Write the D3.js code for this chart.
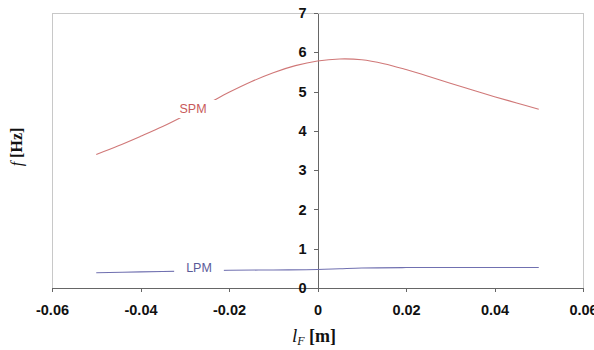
<!DOCTYPE html>
<html><head><meta charset="utf-8">
<script src="https://cdn.jsdelivr.net/npm/d3@7"></script>
<style>body{margin:0;background:#fff}svg{display:block}</style>
</head><body>
<script>
const xTicks = [-0.06, -0.04, -0.02, 0, 0.02, 0.04, 0.06];
const yTicks = [0, 1, 2, 3, 4, 5, 6, 7];
const spmX = [-0.05,-0.045,-0.04,-0.035,-0.03,-0.025,-0.02,-0.015,-0.01,-0.005,0,0.005,0.01,0.015,0.02,0.025,0.03,0.035,0.04,0.045,0.05];
const spmY = [3.40,3.62,3.86,4.11,4.39,4.68,4.98,5.25,5.48,5.66,5.78,5.83,5.81,5.71,5.56,5.39,5.21,5.04,4.87,4.71,4.55];
const lpmX = [-0.05,-0.04,-0.03,-0.02,-0.01,0,0.005,0.01,0.02,0.03,0.04,0.05];
const lpmY = [0.39,0.41,0.43,0.45,0.46,0.47,0.49,0.51,0.52,0.52,0.52,0.52];

const W = 594, H = 350;
const svg = d3.select("body").append("svg").attr("width", W).attr("height", H);
const x = d3.scaleLinear().domain([-0.06, 0.06]).range([52, 583]);
const y = d3.scaleLinear().domain([0, 7]).range([288, 13]);

// frame
svg.append("rect").attr("x", x(-0.06)).attr("y", y(7)).attr("width", x(0.06)-x(-0.06)).attr("height", y(0)-y(7))
  .attr("fill", "none").attr("stroke", "#c8c8c8").attr("stroke-width", 1).attr("shape-rendering","crispEdges");

const fmt = d => d === 0 ? "0" : d3.format(".2f")(d).replace("−","-");

const xAxis = svg.append("g").attr("transform", `translate(0,${y(0)})`)
  .call(d3.axisBottom(x).tickValues(xTicks).tickSize(4).tickSizeOuter(0).tickPadding(13).tickFormat(fmt));
const yAxis = svg.append("g").attr("transform", `translate(${x(0)},0)`)
  .call(d3.axisLeft(y).tickValues(yTicks).tickSize(4).tickSizeOuter(0).tickPadding(7).tickFormat(d3.format("d")));
[xAxis, yAxis].forEach(g => {
  g.selectAll("path,line").attr("stroke", "#666").attr("shape-rendering","crispEdges");
  g.selectAll("text").attr("font-family", "Arial, 'Liberation Sans', sans-serif").attr("font-weight", "bold")
    .attr("font-size", 14.5).attr("fill", "#111");
});

const line = d3.line().x(d => x(d[0])).y(d => y(d[1])).curve(d3.curveCatmullRom);
svg.append("path").datum(d3.zip(spmX, spmY)).attr("d", line).attr("fill", "none").attr("stroke", "#d07878").attr("stroke-width", 1.1);
svg.append("path").datum(d3.zip(lpmX, lpmY)).attr("d", line).attr("fill", "none").attr("stroke", "#7070b0").attr("stroke-width", 1.1);

function label(t, cx, cy, col) {
  const g = svg.append("g");
  const tx = g.append("text").attr("x", cx).attr("y", cy).attr("text-anchor", "middle").attr("dominant-baseline","central")
    .attr("font-family", "Arial, 'Liberation Sans', sans-serif").attr("font-size", 12.5).attr("fill", col).text(t);
  const bb = tx.node().getBBox();
  g.insert("rect", "text").attr("x", bb.x - 12).attr("y", bb.y - 2).attr("width", bb.width + 24).attr("height", bb.height + 4).attr("fill", "#fff");
}
label("SPM", 193, 109, "#c85a5a");
label("LPM", 199, 268, "#5a5a98");

// axis titles
const xt = svg.append("text").attr("x", 314).attr("y", 342).attr("text-anchor", "middle")
  .attr("font-family", "'Liberation Serif', 'Times New Roman', serif").attr("font-size", 18).attr("fill", "#111");
xt.append("tspan").attr("font-style", "italic").attr("font-size", 19).text("l");
xt.append("tspan").attr("font-style", "italic").attr("font-size", 12).attr("dy", 3).text("F");
xt.append("tspan").attr("font-weight", "bold").attr("dy", -3).text(" [m]");

const yt = svg.append("text").attr("transform", "translate(22,147) rotate(-90)").attr("text-anchor", "middle")
  .attr("font-family", "'Liberation Serif', 'Times New Roman', serif").attr("font-size", 16).attr("fill", "#111");
yt.append("tspan").attr("font-style", "italic").text("f");
yt.append("tspan").attr("font-weight", "bold").text(" [Hz]");
</script>
</body></html>
